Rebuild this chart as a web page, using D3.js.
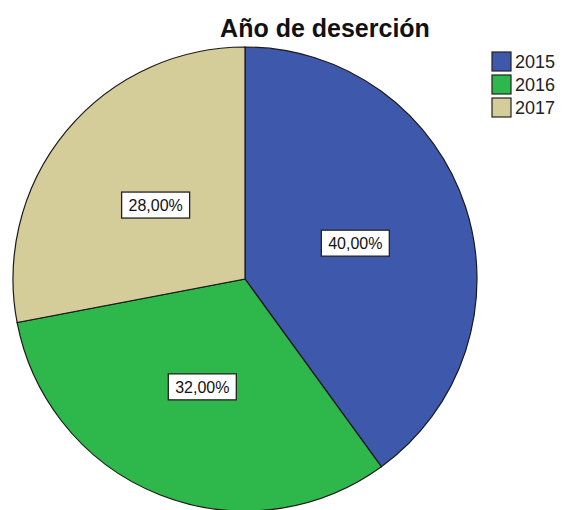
<!DOCTYPE html>
<html><head><meta charset="utf-8">
<script src="https://cdn.jsdelivr.net/npm/d3@7"></script>
<style>body{margin:0;background:#fff}svg{display:block}</style>
</head><body>
<svg id="chart" width="564" height="510"></svg>
<script>
const categories = ["2015", "2016", "2017"];
const values = [40, 32, 28];
const labels = ["40,00%", "32,00%", "28,00%"];
const colors = ["#3E58AC", "#2EB84B", "#D4CC99"];
const title = "Año de deserción";

const svg = d3.select("#chart");
const cx = 245, cy = 279, r = 232;

const pie = d3.pie().sort(null).value(d => d.v);
const data = categories.map((c, i) => ({c, v: values[i], lab: labels[i], col: colors[i]}));
const arcs = pie(data);
const arc = d3.arc().innerRadius(0).outerRadius(r);
const labArc = d3.arc().innerRadius(r * 0.5).outerRadius(r * 0.5);

const g = svg.append("g").attr("transform", `translate(${cx},${cy})`);
g.selectAll("path").data(arcs).join("path")
  .attr("d", arc).attr("fill", d => d.data.col)
  .attr("stroke", "#1a1a1a").attr("stroke-width", 1.2);

const lg = g.selectAll("g.lab").data(arcs).join("g").attr("class", "lab")
  .attr("transform", d => `translate(${labArc.centroid(d)})`);
lg.append("rect").attr("x", -34).attr("y", -13).attr("width", 68).attr("height", 26)
  .attr("fill", "#fff").attr("stroke", "#222").attr("stroke-width", 1.3);
lg.append("text").attr("text-anchor", "middle").attr("dy", "0.36em")
  .attr("font-family", "Liberation Sans, Arial, sans-serif").attr("font-size", 16)
  .attr("fill", "#111").text(d => d.data.lab);

svg.append("text").attr("x", 325).attr("y", 37).attr("text-anchor", "middle")
  .attr("font-family", "Liberation Sans, Arial, sans-serif").attr("font-weight", "bold")
  .attr("font-size", 25).attr("fill", "#111").text(title);

const leg = svg.append("g").selectAll("g").data(data).join("g")
  .attr("transform", (d, i) => `translate(492,${52 + i * 23})`);
leg.append("rect").attr("width", 19).attr("height", 19).attr("fill", d => d.col)
  .attr("stroke", "#222").attr("stroke-width", 1.2);
leg.append("text").attr("x", 23).attr("y", 16)
  .attr("font-family", "Liberation Sans, Arial, sans-serif").attr("font-size", 18)
  .attr("fill", "#222").text(d => d.c);
</script>
</body></html>
